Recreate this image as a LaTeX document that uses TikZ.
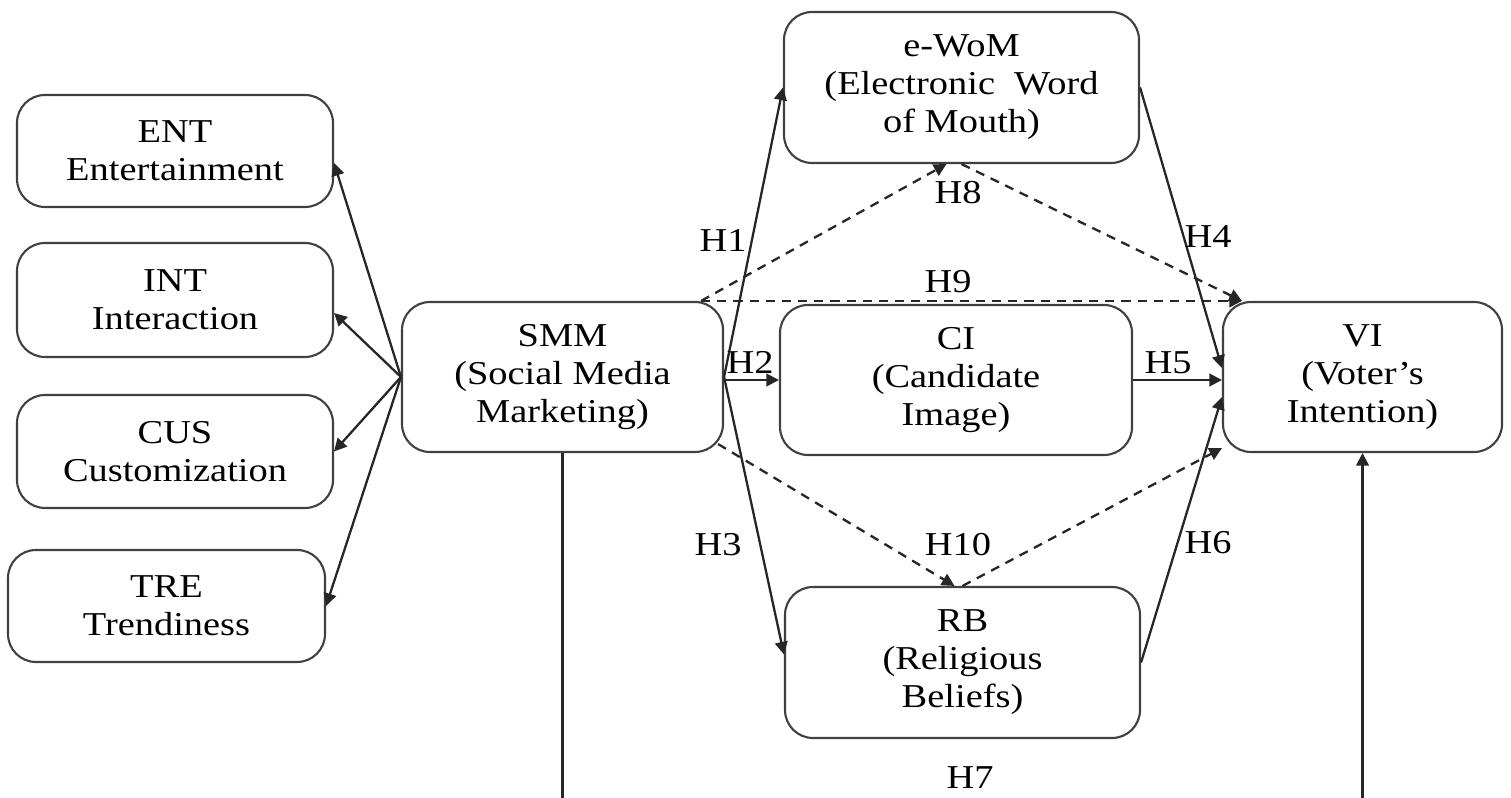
\documentclass[tikz,border=0pt]{standalone}
\usepackage{fontspec}
\setmainfont{Liberation Serif}[FakeStretch=1.15]
\usetikzlibrary{arrows.meta}

\begin{document}
\begin{tikzpicture}
	\tikzstyle{construct_box} = [rectangle, rounded corners=0.28cm, draw=black!75, line width=0.6pt, align=center, font=\fontsize{9.5}{10.8}\selectfont, inner sep=0pt]
	\tikzstyle{hyp_label} = [font=\fontsize{9.5}{10.8}\selectfont, inner sep=1pt]
	\tikzstyle{path_arrow} = [line width=0.65pt, black!85, -{Triangle[length=3.6pt,width=3.6pt]}]
	\tikzstyle{mediation} = [path_arrow, dash pattern=on 2.6pt off 2pt]

	\useasboundingbox (0,0) rectangle (15.11,7.97);
	\clip (0,0) rectangle (15.11,7.97);

	% Dimensions of SMM
	\node (ENT) [construct_box, minimum width=3.16cm, minimum height=1.12cm] at (1.75,6.46) {ENT\\Entertainment};
	\node (INT) [construct_box, minimum width=3.16cm, minimum height=1.14cm] at (1.75,4.97) {INT\\Interaction};
	\node (CUS) [construct_box, minimum width=3.16cm, minimum height=1.13cm] at (1.75,3.455) {CUS\\Customization};
	\node (TRE) [construct_box, minimum width=3.17cm, minimum height=1.12cm] at (1.665,1.91) {TRE\\Trendiness};

	% Independent variable
	\node (SMM) [construct_box, minimum width=3.21cm, minimum height=1.5cm] at (5.625,4.2) {SMM\\(Social Media\\Marketing)};

	% Mediators
	\node (EWOM) [construct_box, minimum width=3.55cm, minimum height=1.51cm] at (9.615,7.095) {e-WoM\\(Electronic~~Word\\of Mouth)};
	\node (CI) [construct_box, minimum width=3.52cm, minimum height=1.5cm] at (9.56,4.17) {CI\\(Candidate\\Image)};
	\node (RB) [construct_box, minimum width=3.55cm, minimum height=1.51cm] at (9.625,1.345) {RB\\(Religious\\Beliefs)};

	% Dependent variable
	\node (VI) [construct_box, minimum width=2.79cm, minimum height=1.5cm] at (13.625,4.2) {VI\\(Voter's\\Intention)};

	% SMM to its dimensions
	\draw[path_arrow] (SMM.west) -- ([yshift=-0.12cm]ENT.east);
	\draw[path_arrow] (SMM.west) -- ([yshift=-0.13cm]INT.east);
	\draw[path_arrow] (SMM.west) -- (CUS.east);
	\draw[path_arrow] (SMM.west) -- (TRE.east);

	% Direct paths
	\draw[path_arrow] (SMM.east) -- (EWOM.west);
	\draw[path_arrow] (SMM.east |- CI.west) -- (CI.west);
	\draw[path_arrow] (SMM.east) -- ([yshift=0.08cm]RB.west);
	\draw[path_arrow] (EWOM.east) -- ([yshift=0.09cm]VI.west);
	\draw[path_arrow] (CI.east) -- (VI.west |- CI.east);
	\draw[path_arrow] (RB.east) -- ([yshift=-0.2cm]VI.west);
	\coordinate (h7base) at (9.6,-0.3);
	\draw[path_arrow] (SMM.south) |- (h7base) -| (VI.south);

	% Mediated paths
	\draw[mediation] ([xshift=-0.23cm]SMM.north east) -- ([xshift=-0.15cm]EWOM.south);
	\draw[mediation] (EWOM.south) -- ([xshift=0.2cm]VI.north west);
	\draw[mediation] ([xshift=-0.23cm]SMM.north east) -- ([xshift=0.2cm]VI.north west);
	\draw[mediation] ([xshift=-0.06cm,yshift=0.09cm]SMM.south east) -- ([xshift=-0.08cm]RB.north);
	\draw[mediation] (RB.north) -- ([yshift=0.05cm]VI.south west);

	% Hypotheses
	\node (H1) [hyp_label] at (7.23,5.57) {H1};
	\node (H2) [hyp_label] at (7.50,4.35) {H2};
	\node (H3) [hyp_label] at (7.18,2.52) {H3};
	\node (H4) [hyp_label] at (12.08,5.60) {H4};
	\node (H5) [hyp_label] at (11.68,4.34) {H5};
	\node (H6) [hyp_label] at (12.08,2.54) {H6};
	\node (H7) [hyp_label] at (9.70,0.19) {H7};
	\node (H8) [hyp_label] at (9.58,6.04) {H8};
	\node (H9) [hyp_label] at (9.48,5.15) {H9};
	\node (H10) [hyp_label] at (9.58,2.52) {H10};
\end{tikzpicture}
\end{document}
